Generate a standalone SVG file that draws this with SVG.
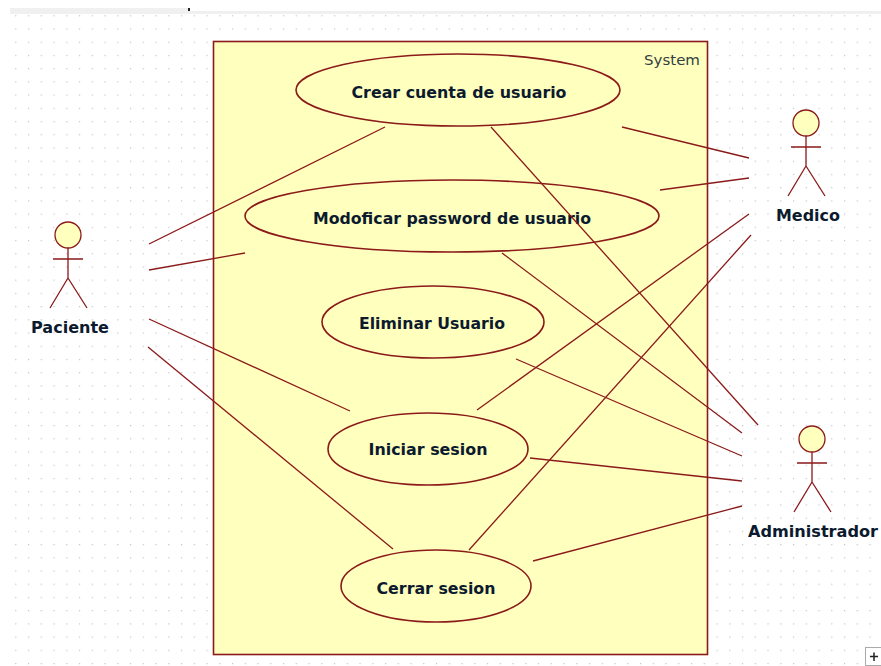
<svg xmlns="http://www.w3.org/2000/svg" width="881" height="666" viewBox="0 0 881 666">
<style>
.l{stroke:#8b1a1a;stroke-width:1.3;fill:none}
.u{stroke:#8b1a1a;stroke-width:1.6;fill:#ffffbe}
.t{font-family:"DejaVu Sans",Verdana,sans-serif;font-size:15.5px;font-weight:bold;fill:#0c1a2e;text-anchor:middle}
.a{stroke:#8b1a1a;stroke-width:1.3;fill:none}
.h{stroke:#8b1a1a;stroke-width:1.3;fill:#ffffbe}
</style>
<defs>
<pattern id="g" x="15.2" y="15.2" width="12.75" height="13.22" patternUnits="userSpaceOnUse"><rect width="1.2" height="1.2" fill="#c4c4c4"/></pattern>
<g id="actor">
<circle class="h" cx="0" cy="-13" r="13"/>
<path class="a" d="M0 0V30M-15 11H15M0 30L-18 60M0 30L19 60"/>
</g>
</defs>
<rect width="881" height="666" fill="#fff"/>
<rect x="10" y="14" width="871" height="652" fill="url(#g)"/>
<rect x="10" y="8" width="178" height="6" fill="#f0f0f0"/>
<rect x="188" y="11" width="693" height="3" fill="#f0f0f0"/>
<rect x="188" y="8" width="2" height="3" fill="#222"/>
<g id="system">
<rect x="213.500" y="41.500" width="494" height="613" class="u"/>
<text x="672" y="65" font-family="DejaVu Sans, Verdana, sans-serif" font-size="14.500" fill="#33403f" text-anchor="middle" textLength="56" lengthAdjust="spacingAndGlyphs">System</text>
</g>
<g id="uc1"><ellipse class="u" cx="458" cy="90" rx="162" ry="36"/><text class="t" x="459" y="98" textLength="215" lengthAdjust="spacingAndGlyphs">Crear cuenta de usuario</text></g>
<g id="uc2"><ellipse class="u" cx="452" cy="216" rx="207" ry="36"/><text class="t" x="452" y="224" textLength="278" lengthAdjust="spacingAndGlyphs">Modoficar password de usuario</text></g>
<g id="uc3"><ellipse class="u" cx="433" cy="322" rx="111" ry="36"/><text class="t" x="432" y="329" textLength="146" lengthAdjust="spacingAndGlyphs">Eliminar Usuario</text></g>
<g id="uc4"><ellipse class="u" cx="428" cy="449" rx="100" ry="36"/><text class="t" x="428" y="455" textLength="119" lengthAdjust="spacingAndGlyphs">Iniciar sesion</text></g>
<g id="uc5"><ellipse class="u" cx="436" cy="586" rx="95" ry="36"/><text class="t" x="436" y="594" textLength="119" lengthAdjust="spacingAndGlyphs">Cerrar sesion</text></g>
<g id="paciente"><use href="#actor" x="68" y="248"/><text class="t" x="70" y="333" textLength="78" lengthAdjust="spacingAndGlyphs">Paciente</text></g>
<g id="medico"><use href="#actor" x="806" y="136"/><text class="t" x="808" y="221" textLength="64" lengthAdjust="spacingAndGlyphs">Medico</text></g>
<g id="administrador"><use href="#actor" x="812" y="452"/><text class="t" x="813" y="537" textLength="130" lengthAdjust="spacingAndGlyphs">Administrador</text></g>
<g id="connectors">
<path class="l" d="M149 244L385 127"/>
<path class="l" d="M149 270L245 253"/>
<path class="l" d="M149 319L350 411"/>
<path class="l" d="M148 347L393 549"/>
<path class="l" d="M622 127L749 158"/>
<path class="l" d="M660 190L749 178"/>
<path class="l" d="M749 214L477 410"/>
<path class="l" d="M751 235L469 550"/>
<path class="l" d="M491 127L758 425"/>
<path class="l" d="M502 253L742 433"/>
<path class="l" d="M516 359L742 456"/>
<path class="l" d="M530 458L742 481"/>
<path class="l" d="M533 561L742 506"/>
</g>
<g id="handle"><rect x="865.500" y="647.500" width="16" height="18" fill="#fff" stroke="#aaa"/><path d="M870 656.500H878M874 652.500V661" stroke="#222" stroke-width="1.500"/></g>
</svg>
